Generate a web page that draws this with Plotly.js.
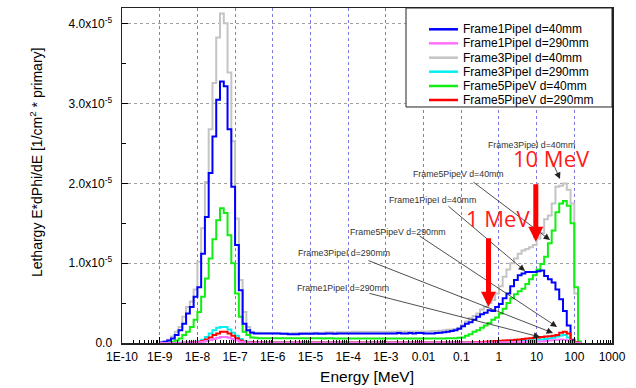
<!DOCTYPE html>
<html><head><meta charset="utf-8">
<script src="https://cdn.plot.ly/plotly-3.0.1.min.js"></script>
<style>html,body{margin:0;padding:0;background:#fff}#chart{width:636px;height:388px}</style>
</head><body><div id="chart"></div>
<script>
// log10(E/MeV) bin edges, 10 bins per decade
const binEdgeExponents = [
 -9.0,-8.9,-8.8,-8.7,-8.6,-8.5,-8.4,-8.3,-8.2,-8.1,
 -8.0,-7.9,-7.8,-7.7,-7.6,-7.5,-7.4,-7.3,-7.2,-7.1,
 -7.0,-6.9,-6.8,-6.7,-6.6,-6.5,-6.4,-6.3,-6.2,-6.1,
 -6.0,-5.9,-5.8,-5.7,-5.6,-5.5,-5.4,-5.3,-5.2,-5.1,
 -5.0,-4.9,-4.8,-4.7,-4.6,-4.5,-4.4,-4.3,-4.2,-4.1,
 -4.0,-3.9,-3.8,-3.7,-3.6,-3.5,-3.4,-3.3,-3.2,-3.1,
 -3.0,-2.9,-2.8,-2.7,-2.6,-2.5,-2.4,-2.3,-2.2,-2.1,
 -2.0,-1.9,-1.8,-1.7,-1.6,-1.5,-1.4,-1.3,-1.2,-1.1,
 -1.0,-0.9,-0.8,-0.7,-0.6,-0.5,-0.4,-0.3,-0.2,-0.1,
  0.0, 0.1, 0.2, 0.3, 0.4, 0.5, 0.6, 0.7, 0.8, 0.9,
  1.0, 1.1, 1.2, 1.3, 1.4, 1.5, 1.6, 1.7, 1.8, 1.9,
  2.0, 2.1, 2.2];

const seriesNames = ['Frame1PipeI d=40mm','Frame1PipeI d=290mm','Frame3PipeI d=40mm',
                     'Frame3PipeI d=290mm','Frame5PipeV d=40mm','Frame5PipeV d=290mm'];

// values in units of 1e-5 [1/cm^2 * primary], one per bin
const frame1PipeI_40 = [
 0.005,0.015,0.03,0.055,0.10,0.16,0.24,0.37,0.45,0.58,
 0.70,1.12,1.58,2.13,2.59,3.05,3.28,3.22,2.68,1.96,
 1.23,0.66,0.24,0.16,0.13,0.12,0.12,0.12,0.12,0.12,
 0.12,0.12,0.115,0.115,0.11,0.11,0.11,0.115,0.115,0.115,
 0.115,0.12,0.115,0.115,0.12,0.12,0.115,0.12,0.12,0.12,
 0.12,0.12,0.12,0.12,0.12,0.12,0.12,0.12,0.12,0.12,
 0.12,0.12,0.12,0.125,0.12,0.12,0.125,0.12,0.125,0.125,
 0.12,0.12,0.12,0.125,0.13,0.135,0.14,0.15,0.16,0.18,
 0.21,0.24,0.26,0.29,0.33,0.36,0.38,0.41,0.40,0.45,
 0.49,0.56,0.62,0.71,0.79,0.85,0.87,0.89,0.89,0.89,
 0.90,0.91,0.84,0.80,0.76,0.67,0.55,0.40,0.22,0.04,
 0.01,0.0];
const frame1PipeI_290 = [
 0,0,0,0,0,0,0.002,0.003,0.004,0.006,
 0.01,0.015,0.025,0.035,0.05,0.065,0.075,0.075,0.065,0.05,
 0.03,0.015,0.008,0.005,0.004,0.004,0.004,0.004,0.004,0.004,
 0.004,0.004,0.004,0.004,0.004,0.004,0.004,0.004,0.004,0.004,
 0.004,0.004,0.004,0.004,0.004,0.004,0.004,0.004,0.004,0.004,
 0.004,0.004,0.004,0.004,0.004,0.004,0.004,0.004,0.004,0.004,
 0.004,0.004,0.004,0.004,0.004,0.004,0.004,0.004,0.004,0.004,
 0.004,0.004,0.004,0.004,0.004,0.004,0.004,0.004,0.004,0.004,
 0.004,0.004,0.005,0.005,0.005,0.006,0.006,0.007,0.007,0.008,
 0.008,0.009,0.01,0.011,0.012,0.013,0.014,0.015,0.016,0.017,
 0.018,0.02,0.025,0.03,0.035,0.04,0.045,0.04,0.03,0.01,
 0.003,0];
const frame3PipeI_40 = [
 0.01,0.02,0.04,0.08,0.14,0.20,0.33,0.45,0.52,0.67,
 1.02,1.44,2.02,2.68,3.26,3.83,4.13,4.01,3.39,2.53,
 1.56,0.79,0.39,0.20,0.14,0.13,0.13,0.125,0.125,0.125,
 0.125,0.125,0.12,0.12,0.12,0.125,0.125,0.125,0.13,0.13,
 0.13,0.13,0.13,0.13,0.135,0.135,0.13,0.135,0.135,0.135,
 0.135,0.14,0.14,0.14,0.14,0.14,0.14,0.14,0.14,0.14,
 0.14,0.14,0.14,0.145,0.14,0.145,0.145,0.145,0.145,0.145,
 0.145,0.145,0.15,0.15,0.155,0.16,0.165,0.17,0.175,0.19,
 0.23,0.27,0.31,0.34,0.37,0.42,0.45,0.50,0.54,0.62,
 0.71,0.83,0.92,1.00,1.06,1.12,1.16,1.18,1.20,1.23,
 1.31,1.38,1.55,1.60,1.75,1.96,1.97,2.00,1.92,1.75,
 0.62,0.02];
const frame3PipeI_290 = [
 0,0,0,0,0,0.003,0.005,0.007,0.01,0.015,
 0.02,0.04,0.075,0.12,0.16,0.19,0.20,0.20,0.17,0.13,
 0.09,0.05,0.025,0.015,0.01,0.008,0.006,0.006,0.005,0.005,
 0.005,0.005,0.005,0.005,0.005,0.005,0.005,0.005,0.005,0.005,
 0.005,0.005,0.005,0.005,0.005,0.005,0.005,0.005,0.005,0.005,
 0.005,0.005,0.005,0.005,0.005,0.005,0.005,0.005,0.005,0.005,
 0.005,0.005,0.005,0.005,0.005,0.005,0.005,0.005,0.005,0.005,
 0.005,0.005,0.005,0.005,0.005,0.005,0.005,0.005,0.005,0.005,
 0.005,0.005,0.006,0.006,0.007,0.007,0.008,0.008,0.009,0.01,
 0.01,0.012,0.015,0.018,0.02,0.023,0.026,0.03,0.033,0.036,
 0.04,0.045,0.05,0.055,0.065,0.08,0.095,0.10,0.07,0.02,
 0.005,0];
const frame5PipeV_40 = [
 0,0.003,0.005,0.015,0.03,0.055,0.10,0.14,0.20,0.29,
 0.39,0.58,0.81,1.06,1.30,1.54,1.69,1.63,1.35,1.00,
 0.62,0.33,0.14,0.10,0.07,0.065,0.06,0.06,0.06,0.06,
 0.06,0.06,0.06,0.06,0.06,0.06,0.06,0.06,0.06,0.06,
 0.06,0.06,0.06,0.055,0.06,0.06,0.055,0.055,0.055,0.055,
 0.055,0.055,0.055,0.055,0.055,0.055,0.055,0.055,0.055,0.055,
 0.055,0.055,0.055,0.055,0.055,0.055,0.055,0.055,0.055,0.055,
 0.055,0.055,0.055,0.055,0.055,0.055,0.06,0.06,0.06,0.065,
 0.07,0.09,0.11,0.14,0.16,0.19,0.22,0.25,0.29,0.32,
 0.37,0.43,0.50,0.56,0.61,0.65,0.68,0.74,0.80,0.85,
 0.92,0.99,1.08,1.25,1.41,1.64,1.75,1.78,1.72,1.50,
 0.70,0.02];
const frame5PipeV_290 = [
 0,0,0,0,0,0,0.002,0.003,0.005,0.01,
 0.015,0.025,0.045,0.07,0.10,0.12,0.14,0.14,0.12,0.09,
 0.06,0.03,0.015,0.01,0.008,0.006,0.005,0.005,0.005,0.005,
 0.005,0.005,0.005,0.005,0.005,0.005,0.005,0.005,0.005,0.005,
 0.005,0.005,0.005,0.005,0.005,0.005,0.005,0.005,0.005,0.005,
 0.005,0.005,0.005,0.005,0.005,0.005,0.005,0.005,0.005,0.005,
 0.005,0.005,0.005,0.005,0.005,0.005,0.005,0.005,0.005,0.005,
 0.005,0.005,0.005,0.005,0.005,0.005,0.005,0.005,0.005,0.005,
 0.006,0.007,0.008,0.01,0.012,0.014,0.016,0.02,0.022,0.025,
 0.028,0.03,0.033,0.036,0.04,0.045,0.05,0.055,0.06,0.065,
 0.07,0.075,0.08,0.085,0.09,0.10,0.13,0.14,0.12,0.03,
 0.008,0];

const xTickVals = [1e-10,1e-9,1e-8,1e-7,1e-6,1e-5,1e-4,1e-3,1e-2,1e-1,1,10,100,1000];
const xTickText = ['1E-10','1E-9','1E-8','1E-7','1E-6','1E-5','1E-4','1E-3','0.01','0.1','1','10','100','1000'];
const yTickVals = [0,1,2,3,4];
const yTickText = ['0.0','1.0x10<sup>-5</sup>','2.0x10<sup>-5</sup>','3.0x10<sup>-5</sup>','4.0x10<sup>-5</sup>'];

// label annotations: [text, log10 E, value(1e-5)] and arrow tips
const labelText = ['Frame3PipeI d=40mm','Frame5PipeV d=40mm','Frame1PipeI d=40mm',
                   'Frame5PipeV d=290mm','Frame3PipeI d=290mm','Frame1PipeI d=290mm'];
const labelPos = [[0.852,2.48],[-1.072,2.113],[-1.762,1.789],[-2.685,1.395],[-4.123,1.125],[-4.15,0.686]];
const arrowTip = [[1.621,2.056],[1.356,1.291],[0.692,0.903],[1.542,0.201],[1.435,0.125],[1.09,0.075]];
const arrowOffset = [[-12,-27],[-78,-59],[-78,-66],[-139,-92],[-186,-73],[-172,-44]];

const colors = {
  'Frame1PipeI d=40mm':'#0000ff','Frame1PipeI d=290mm':'#ff70ff','Frame3PipeI d=40mm':'#c4c4c4',
  'Frame3PipeI d=290mm':'#00f0f0','Frame5PipeV d=40mm':'#11ee11','Frame5PipeV d=290mm':'#ff0000'};
const seriesData = {
  'Frame1PipeI d=40mm':frame1PipeI_40,'Frame1PipeI d=290mm':frame1PipeI_290,'Frame3PipeI d=40mm':frame3PipeI_40,
  'Frame3PipeI d=290mm':frame3PipeI_290,'Frame5PipeV d=40mm':frame5PipeV_40,'Frame5PipeV d=290mm':frame5PipeV_290};

const xEdges = binEdgeExponents.map(e => Math.pow(10, e));
const drawOrder = ['Frame3PipeI d=40mm','Frame5PipeV d=40mm','Frame1PipeI d=40mm',
                   'Frame3PipeI d=290mm','Frame5PipeV d=290mm','Frame1PipeI d=290mm'];
const traces = drawOrder.map(name => {
  const v = seriesData[name];
  return {type:'scatter', mode:'lines', name:name, x:xEdges, y:v.concat([v[v.length-1]]),
          line:{shape:'hv', color:colors[name], width:2}, hoverinfo:'skip'};
});

const minorX = [];
xTickVals.slice(0,-1).forEach(d => { for (let k=2;k<=9;k++) minorX.push(d*k); });

const font = 'Liberation Sans, Arial, sans-serif';
const annotations = [];
labelText.forEach((t,i) => {
  annotations.push({xref:'x', yref:'y', x:labelPos[i][0], y:labelPos[i][1], text:t, showarrow:false,
    font:{family:font, size:8.8, color:'#333'}, xanchor:'center', yanchor:'middle'});
  annotations.push({xref:'x', yref:'y', x:arrowTip[i][0], y:arrowTip[i][1], text:'', showarrow:true,
    ax:arrowOffset[i][0], ay:arrowOffset[i][1], arrowhead:2, arrowsize:1.6, arrowwidth:0.8,
    arrowcolor:'#222', standoff:0});
});
// big red markers
annotations.push({xref:'x', yref:'y', x:-0.276, y:0.455, text:'', showarrow:true, ax:0, ay:-70,
  arrowhead:2, arrowsize:0.6, arrowwidth:5, arrowcolor:'#ff0000', standoff:0});
annotations.push({xref:'x', yref:'y', x:0.979, y:1.27, text:'', showarrow:true, ax:0, ay:-59,
  arrowhead:2, arrowsize:0.6, arrowwidth:5, arrowcolor:'#ff0000', standoff:0});
annotations.push({xref:'x', yref:'y', x:-0.024, y:1.561, text:'1 MeV', showarrow:false,
  font:{family:'Open Sans, sans-serif', size:22, color:'#ff1a1a'}});
annotations.push({xref:'x', yref:'y', x:1.401, y:2.32, text:'10 MeV', showarrow:false,
  font:{family:'Open Sans, sans-serif', size:22, color:'#ff1a1a'}});

// y-axis title (placed as in the reference, slightly above the axis centre)
annotations.push({xref:'paper', yref:'paper', x:-0.1755, y:0.54, text:'Lethargy E*dPhi/dE [1/cm<sup>2</sup> * primary]',
  textangle:-90, showarrow:false, xanchor:'center', yanchor:'middle', font:{family:font, size:14, color:'#000'}});

// legend box (drawn manually)
const shapes = [{type:'rect', xref:'paper', yref:'paper', x0:0.5796, x1:1, y0:0.7045, y1:1,
  line:{color:'#222', width:1}, fillcolor:'#fff', layer:'above'}];
const legendY = [0.9364,0.8946,0.8517,0.8099,0.7672,0.7254];
seriesNames.forEach((n,i) => {
  shapes.push({type:'line', xref:'paper', yref:'paper', x0:0.6265, x1:0.6857, y0:legendY[i], y1:legendY[i],
    line:{color:colors[n], width:2.5}, layer:'above'});
  annotations.push({xref:'paper', yref:'paper', x:0.6918, y:legendY[i], text:n, showarrow:false,
    xanchor:'left', yanchor:'middle', font:{family:font, size:12, color:'#000'}});
});

const layout = {
  width:636, height:388,
  margin:{l:122, r:24, t:8, b:45},
  paper_bgcolor:'#fff', plot_bgcolor:'#fff',
  showlegend:false,
  font:{family:font, color:'#000', size:12},
  xaxis:{type:'log', range:[-10,3], tickmode:'array', tickvals:xTickVals, ticktext:xTickText,
    ticks:'inside', ticklen:6, tickwidth:1, tickcolor:'#000',
    showline:true, linecolor:'#222', linewidth:1.5, mirror:true,
    showgrid:true, gridcolor:'#7a7ae0', griddash:'dot', gridwidth:1, zeroline:false,
    tickfont:{family:font, size:12, color:'#000'}, ticklabelstandoff:2,
    minor:{tickmode:'array', tickvals:minorX, ticks:'inside', ticklen:3, tickwidth:1, tickcolor:'#000', showgrid:false},
    title:{text:'Energy [MeV]', font:{family:font, size:15.5, color:'#000'}, standoff:8}},
  yaxis:{range:[0,4.2], tickmode:'array', tickvals:yTickVals, ticktext:yTickText,
    ticks:'inside', ticklen:6, tickwidth:1, tickcolor:'#000',
    showline:true, linecolor:'#222', linewidth:1.5, mirror:true,
    showgrid:true, gridcolor:'#a0a0a0', griddash:'dot', gridwidth:1, zeroline:false,
    tickfont:{family:font, size:12, color:'#000'}, ticklabelstandoff:6,
    minor:{tickmode:'array', tickvals:[0.5,1.5,2.5,3.5], ticks:'inside', ticklen:4, tickwidth:1, tickcolor:'#000', showgrid:false}},
  shapes:shapes, annotations:annotations
};

Plotly.newPlot('chart', traces, layout, {staticPlot:true, displayModeBar:false});
</script>
</body></html>
